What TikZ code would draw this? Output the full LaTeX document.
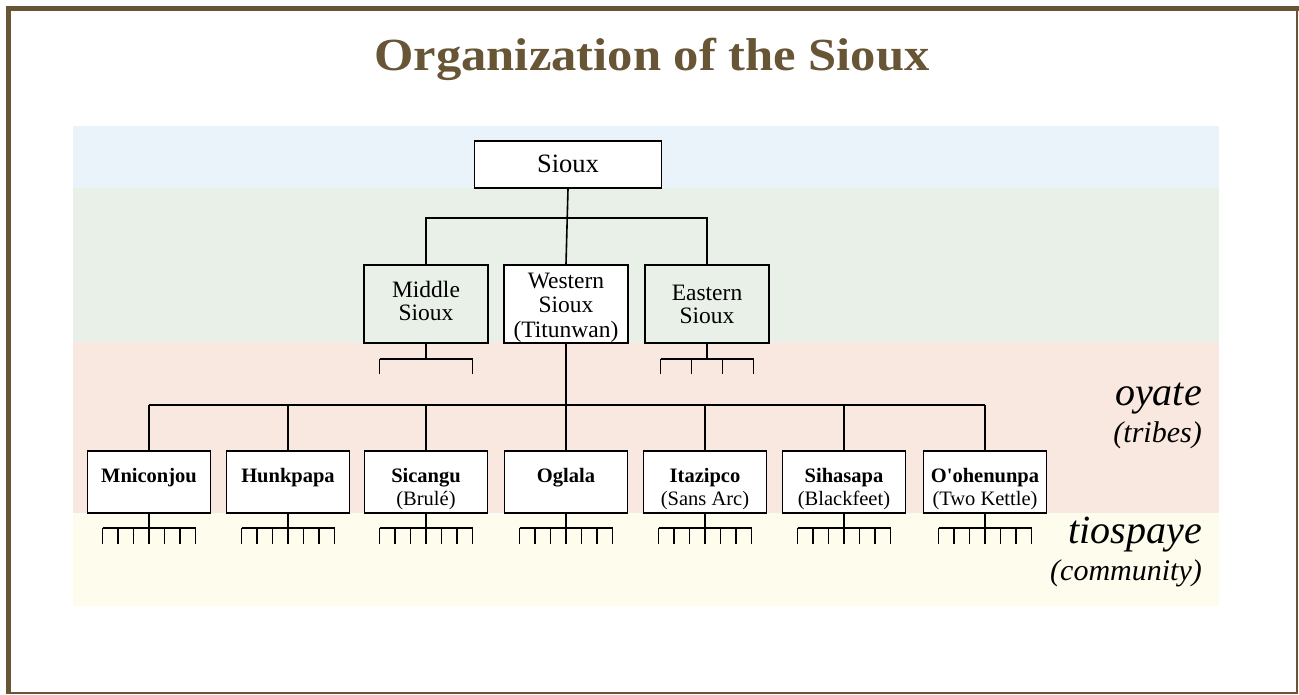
\documentclass[tikz,border=0pt]{standalone}
\usepackage{fontspec}
\setmainfont{Liberation Serif}[Ligatures=TeXOff]
\definecolor{framebrown}{HTML}{675535}
\definecolor{bandblue}{HTML}{EAF3FA}
\definecolor{bandgreen}{HTML}{E9F0E8}
\definecolor{bandpink}{HTML}{F8E8E0}
\definecolor{bandyellow}{HTML}{FEFCEC}
\begin{document}
\begin{tikzpicture}[x=1pt,y=-1pt,
  conn/.style={line width=1.6pt, black},
  topbox/.style={draw=black, fill=white, line width=1.8pt, minimum width=187pt, minimum height=47pt, inner sep=0pt},
  midbox/.style={draw=black, line width=1.8pt, minimum width=124pt, minimum height=78pt, inner sep=0pt},
  tribebox/.style={draw=black, fill=white, line width=1.8pt, minimum width=123pt, minimum height=62pt, inner sep=0pt},
  toptext/.style={anchor=base, inner sep=0pt, font=\fontsize{26.5}{28}\selectfont},
  midtext/.style={anchor=base, inner sep=0pt, font=\fontsize{23.5}{25}\selectfont},
  tribename/.style={anchor=base, inner sep=0pt, font=\fontsize{20.5}{23}\selectfont\bfseries},
  tribesub/.style={anchor=base, inner sep=0pt, font=\fontsize{20.5}{23}\selectfont},
  bigside/.style={anchor=base east, inner sep=0pt, font=\fontsize{40}{42}\selectfont\itshape},
  smallside/.style={anchor=base east, inner sep=0pt, font=\fontsize{30}{32}\selectfont\itshape},
]
\useasboundingbox (0,0) rectangle (1299,694);
\fill[white] (0,0) rectangle (1299,694);
% frame
\fill[framebrown] (6,6) rectangle (1299,11);
\fill[framebrown] (6,6) rectangle (11,694);
\draw[framebrown, line width=1.5pt] (1297,6) -- (1297,693) -- (6,693);
% title
\node[anchor=base, inner sep=0pt, text=framebrown, font=\fontsize{46}{50}\selectfont\bfseries] (title) at (652,70) {\scalebox{1.1}[1]{Organization of the Sioux}};
% bands
\fill[bandblue] (73,126) rectangle (1219,188);
\fill[bandgreen] (73,188) rectangle (1219,342);
\fill[bandpink] (73,342) rectangle (1219,513);
\fill[bandyellow] (73,513) rectangle (1219,606);
% top
\node[topbox] (sioux) at (568,164.5) {};
\node[toptext] (siouxt) at (568,172) {Sioux};
% middle level
\node[midbox] (mid) at (426,304) {};
\node[midbox, fill=white] (west) at (566,304) {};
\node[midbox] (east) at (707,304) {};
\node[midtext] (midt1) at (426,297) {Middle};
\node[midtext] (midt2) at (426,320) {Sioux};
\node[midtext] (westt1) at (566,288) {Western};
\node[midtext] (westt2) at (566,312.5) {Sioux};
\node[midtext] (westt3) at (566,337) {(Titunwan)};
\node[midtext] (eastt1) at (707,300) {Eastern};
\node[midtext] (eastt2) at (707,323) {Sioux};
\draw[conn] (sioux.south) -- (west.north);
\draw[conn] (mid.north) -- (mid.north |- 0,218) -- (east.north |- 0,218) -- (east.north);
% middle fork
\draw[conn] (mid.south) -- ++(0,15) coordinate (mf);
\draw[conn] ([xshift=-46.5pt]mf) -- ([xshift=46.5pt]mf);
\foreach \dx in {-46.5,46.5} \draw[conn] ([xshift=\dx pt]mf) -- ++(0,15);
% eastern fork
\draw[conn] (east.south) -- ++(0,15) coordinate (ef);
\draw[conn] ([xshift=-46.5pt]ef) -- ([xshift=46.5pt]ef);
\foreach \dx in {-46.5,-15.5,15.5,46.5} \draw[conn] ([xshift=\dx pt]ef) -- ++(0,15);
% tribes
\node[tribebox] (mni) at (149,482) {};
\node[tribebox] (hun) at (288,482) {};
\node[tribebox] (sic) at (426,482) {};
\node[tribebox] (ogl) at (566,482) {};
\node[tribebox] (ita) at (705,482) {};
\node[tribebox] (sih) at (844,482) {};
\node[tribebox] (ooh) at (985,482) {};
\node[tribename] (mnit) at (mni.center) {Mniconjou};
\node[tribename] (hunt) at (hun.center) {Hunkpapa};
\node[tribename] (sict) at (sic.center) {Sicangu};
\node[tribesub] (sics) at ([yshift=-23pt]sic.center) {(Brulé)};
\node[tribename] (oglt) at (ogl.center) {Oglala};
\node[tribename] (itat) at (ita.center) {Itazipco};
\node[tribesub] (itas) at ([yshift=-23pt]ita.center) {(Sans Arc)};
\node[tribename] (siht) at (sih.center) {Sihasapa};
\node[tribesub] (sihs) at ([yshift=-23pt]sih.center) {(Blackfeet)};
\node[tribename] (ooht) at (ooh.center) {O'ohenunpa};
\node[tribesub] (oohs) at ([yshift=-23pt]ooh.center) {(Two Kettle)};
% western bus
\draw[conn] (west.south) -- (west.south |- 0,405);
\draw[conn] (mni.north |- 0,405) -- (ooh.north |- 0,405);
\foreach \t in {mni,hun,sic,ogl,ita,sih,ooh} \draw[conn] (\t.north |- 0,405) -- (\t.north);
% tiospaye forks
\foreach \t in {mni,hun,sic,ogl,ita,sih,ooh} {
  \draw[conn] (\t.south) -- ++(0,14) coordinate (\t f);
  \draw[conn] ([xshift=-46.5pt]\t f) -- ([xshift=46.5pt]\t f);
  \foreach \dx in {-46.5,-31,-15.5,0,15.5,31,46.5} \draw[conn] ([xshift=\dx pt]\t f) -- ++(0,16);
}
% side labels
\node[bigside] (oyate) at (1202,405) {oyate};
\node[smallside] (tribes) at (1202,442) {(tribes)};
\node[bigside] (tiospaye) at (1202,543) {tiospaye};
\node[smallside] (community) at (1202,580) {(community)};
\end{tikzpicture}
\end{document}
